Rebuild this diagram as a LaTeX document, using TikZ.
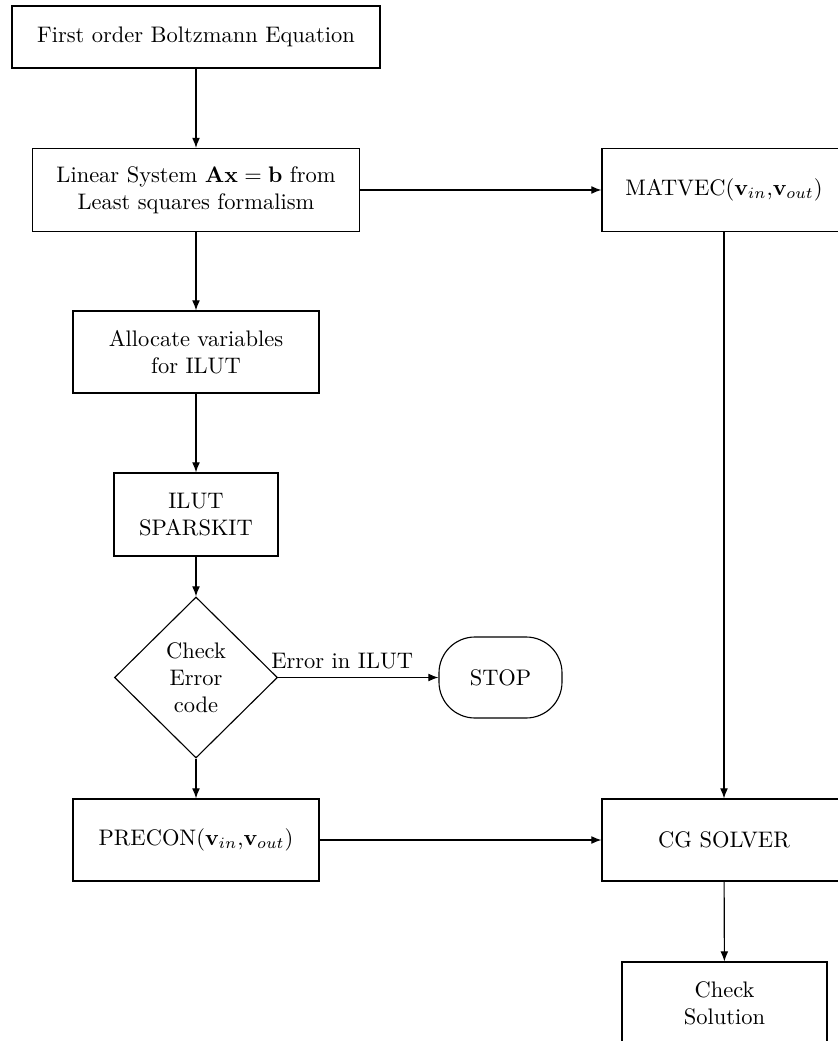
\documentclass[tikz,border=0pt]{standalone}
\usetikzlibrary{shapes.geometric,arrows.meta}
\begin{document}
\begin{tikzpicture}[x=0.445pt,y=-0.445pt,
  box/.style={draw,line width=0.5pt,rectangle,align=center,inner sep=0pt},
  decision/.style={draw,line width=0.5pt,diamond,align=center,inner sep=0pt,minimum width=163*0.445pt,minimum height=161*0.445pt},
  term/.style={draw,line width=0.5pt,rectangle,rounded corners=16pt,align=center,inner sep=0pt},
  arr/.style={line width=0.5pt,-{Latex[length=4.5pt,width=3.5pt]}}]
\useasboundingbox (0,0) rectangle (838,1041);
\clip (0,0) rectangle (838,1041);
\node[box,minimum width=368*0.445pt,minimum height=62*0.445pt] (first) at (196,37) {First order Boltzmann Equation};
\node[box,minimum width=327*0.445pt,minimum height=83*0.445pt] (linear) at (196,190) {Linear System $\mathbf{Ax}=\mathbf{b}$ from\\Least squares formalism};
\node[box,minimum width=244*0.445pt,minimum height=83*0.445pt] (matvec) at (724,190) {MATVEC($\mathbf{v}_{in}$,$\mathbf{v}_{out}$)};
\node[box,minimum width=246*0.445pt,minimum height=82*0.445pt] (alloc) at (196,352) {Allocate variables\\for ILUT};
\node[box,minimum width=164*0.445pt,minimum height=83*0.445pt] (ilut) at (196,514.5) {ILUT\\SPARSKIT};
\node[decision] (check) at (196,677.5) {Check\\Error\\code};
\node[term,minimum width=123*0.445pt,minimum height=81*0.445pt] (stop) at (500.5,677.5) {STOP};
\node[box,minimum width=246*0.445pt,minimum height=82*0.445pt] (precon) at (196,840) {PRECON($\mathbf{v}_{in}$,$\mathbf{v}_{out}$)};
\node[box,minimum width=244*0.445pt,minimum height=82*0.445pt] (cg) at (724,840) {CG SOLVER};
\node[box,minimum width=205*0.445pt,minimum height=83*0.445pt] (sol) at (724.5,1003.5) {Check\\Solution};
\draw[arr] (first) -- (linear);
\draw[arr] (linear) -- (alloc);
\draw[arr] (alloc) -- (ilut);
\draw[arr] (ilut) -- (check);
\draw[arr] (check) -- (precon);
\draw[arr] (check.east) -- node[pos=0.4,above] {Error in ILUT} (stop.west);
\draw[arr] (linear.east) -- (matvec.west);
\draw[arr] (matvec) -- (cg);
\draw[arr] (precon) -- (cg);
\draw[arr] (cg) -- (sol);
\end{tikzpicture}
\end{document}
